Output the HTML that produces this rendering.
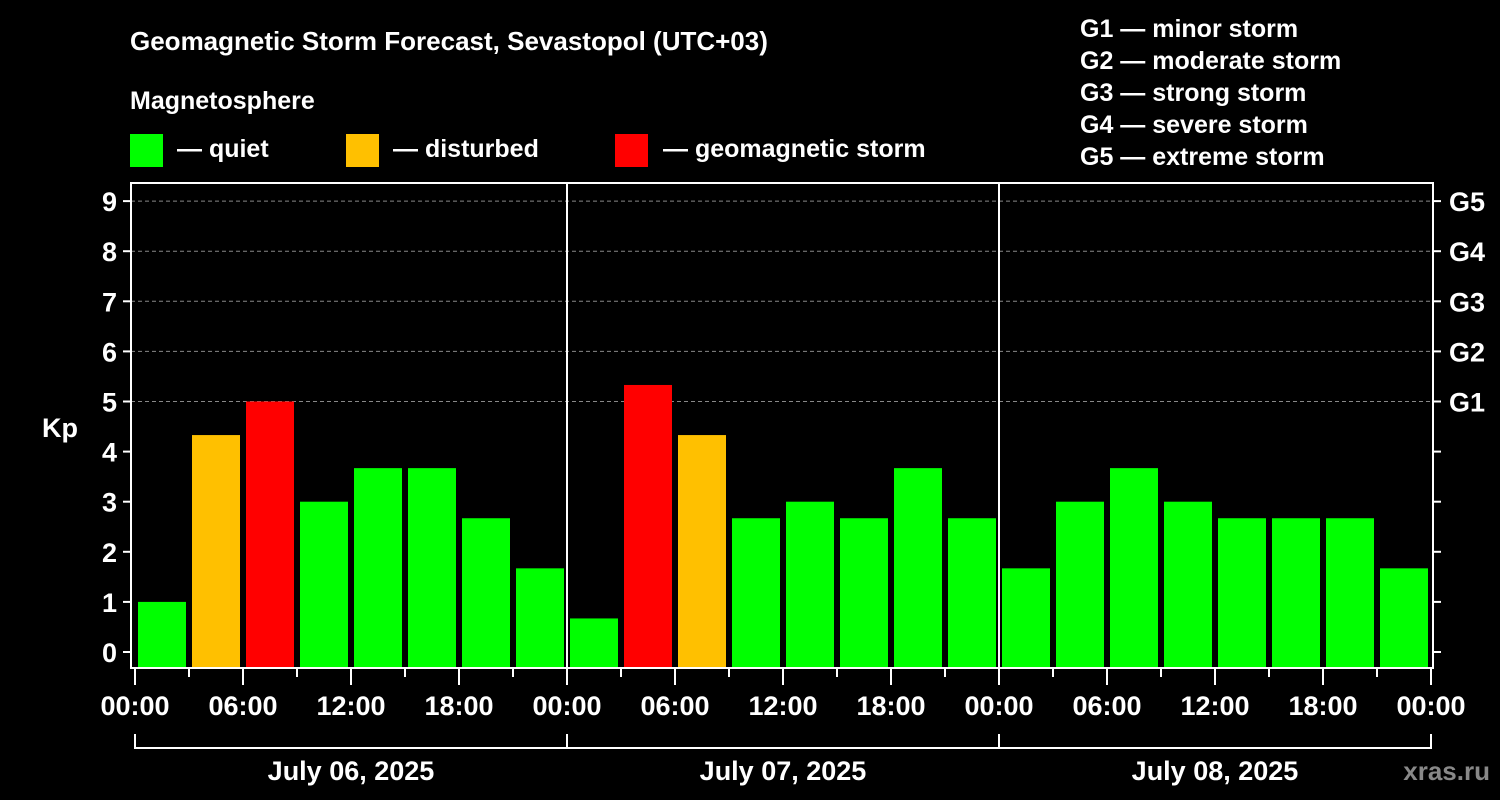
<!DOCTYPE html>
<html><head><meta charset="utf-8"><style>
body{margin:0;background:#000;width:1500px;height:800px;overflow:hidden}
svg{display:block;font-family:"Liberation Sans",Arial,sans-serif;font-weight:bold}
</style></head><body>
<svg id="c" width="1500" height="800">
<text x="130" y="50" fill="#fff" font-size="26">Geomagnetic Storm Forecast, Sevastopol (UTC+03)</text>
<text x="130" y="109" fill="#fff" font-size="25">Magnetosphere</text>
<rect x="130" y="134" width="33" height="33" fill="#00ff00"/>
<text x="177" y="157" fill="#fff" font-size="25">— quiet</text>
<rect x="346" y="134" width="33" height="33" fill="#ffc000"/>
<text x="393" y="157" fill="#fff" font-size="25">— disturbed</text>
<rect x="615" y="134" width="33" height="33" fill="#ff0000"/>
<text x="663" y="157" fill="#fff" font-size="25">— geomagnetic storm</text>
<g fill="#fff" font-size="25">
<text x="1080" y="37">G1 — minor storm</text>
<text x="1080" y="69">G2 — moderate storm</text>
<text x="1080" y="101">G3 — strong storm</text>
<text x="1080" y="133">G4 — severe storm</text>
<text x="1080" y="165">G5 — extreme storm</text>
</g>
<text x="42" y="437" fill="#fff" font-size="27">Kp</text>
<text x="1490" y="780" fill="#888" font-size="26" text-anchor="end">xras.ru</text>
<g id="plot"></g>
</svg>
<script>
const days = ["July 06, 2025","July 07, 2025","July 08, 2025"];
const kpValues = [1,4.33,5,3,3.67,3.67,2.67,1.67, 0.67,5.33,4.33,2.67,3,2.67,3.67,2.67, 1.67,3,3.67,3,2.67,2.67,2.67,1.67];
const yTicks = [0,1,2,3,4,5,6,7,8,9];
const gLabels = ["G1","G2","G3","G4","G5"];
const xTickLabels = ["00:00","06:00","12:00","18:00"];
const NS="http://www.w3.org/2000/svg";
const g=document.getElementById('plot');
const X0=135, DAYW=432, Y0=652, UNIT=50.1, TOP=183, BOT=668, LEFT=131, RIGHT=1433;
const xs=h=>X0+h/24*DAYW;
const ys=v=>Y0-v*UNIT;
function mk(t,a){const e=document.createElementNS(NS,t);for(const k in a)e.setAttribute(k,a[k]);g.appendChild(e);return e;}
// gridlines 5..9
yTicks.filter(v=>v>=5).forEach(v=>{
 const l=mk('line',{x1:LEFT,x2:RIGHT,y1:ys(v),y2:ys(v),stroke:'#888','stroke-dasharray':'4,3','stroke-width':1});
 
 
});
// bars
kpValues.forEach((v,i)=>{
 const col=v>=5?'#ff0000':(v>=4?'#ffc000':'#00ff00');
 const r=mk('rect',{x:xs(i*3)+3,y:ys(v),width:48,height:BOT-1-ys(v),fill:col});
 
 
});
// frame
const f=mk('rect',{x:LEFT,y:TOP,width:RIGHT-LEFT,height:BOT-TOP,fill:'none',stroke:'#fff','stroke-width':2});


[1,2].forEach(d=>{const l=mk('line',{x1:xs(d*24),x2:xs(d*24),y1:TOP,y2:BOT,stroke:'#fff','stroke-width':2});
 
 });
// y ticks
yTicks.forEach(v=>{
 mk('line',{x1:LEFT-8,x2:LEFT,y1:ys(v),y2:ys(v),stroke:'#fff','stroke-width':2});
 mk('line',{x1:RIGHT,x2:RIGHT+8,y1:ys(v),y2:ys(v),stroke:'#fff','stroke-width':2});
 const t=mk('text',{x:LEFT-14,y:ys(v)+10,fill:'#fff','font-size':27,'text-anchor':'end'});
 t.textContent=v;
 
 
});
gLabels.forEach((s,i)=>{
 const t=mk('text',{x:RIGHT+16,y:ys(i+5)+10,fill:'#fff','font-size':27});
 t.textContent=s;
 
 
});
// x ticks
for(let h=0;h<=72;h+=3){
 const major=h%6===0;
 mk('line',{x1:xs(h),x2:xs(h),y1:BOT,y2:BOT+(major?17:9),stroke:'#fff','stroke-width':2});
 if(major){
  const t=mk('text',{x:xs(h),y:715,fill:'#fff','font-size':27,'text-anchor':'middle'});
  t.textContent=xTickLabels[(h/6)%4];
  
  
 }
}
// day brackets
mk('line',{x1:xs(0),x2:xs(72),y1:748,y2:748,stroke:'#fff','stroke-width':2});
[0,1,2,3].forEach(d=>mk('line',{x1:xs(d*24),x2:xs(d*24),y1:734,y2:749,stroke:'#fff','stroke-width':2}));
days.forEach((s,d)=>{
 const t=mk('text',{x:xs(d*24+12),y:780,fill:'#fff','font-size':27,'text-anchor':'middle'});
 t.textContent=s;
 
 
});
</script>
</body></html>
